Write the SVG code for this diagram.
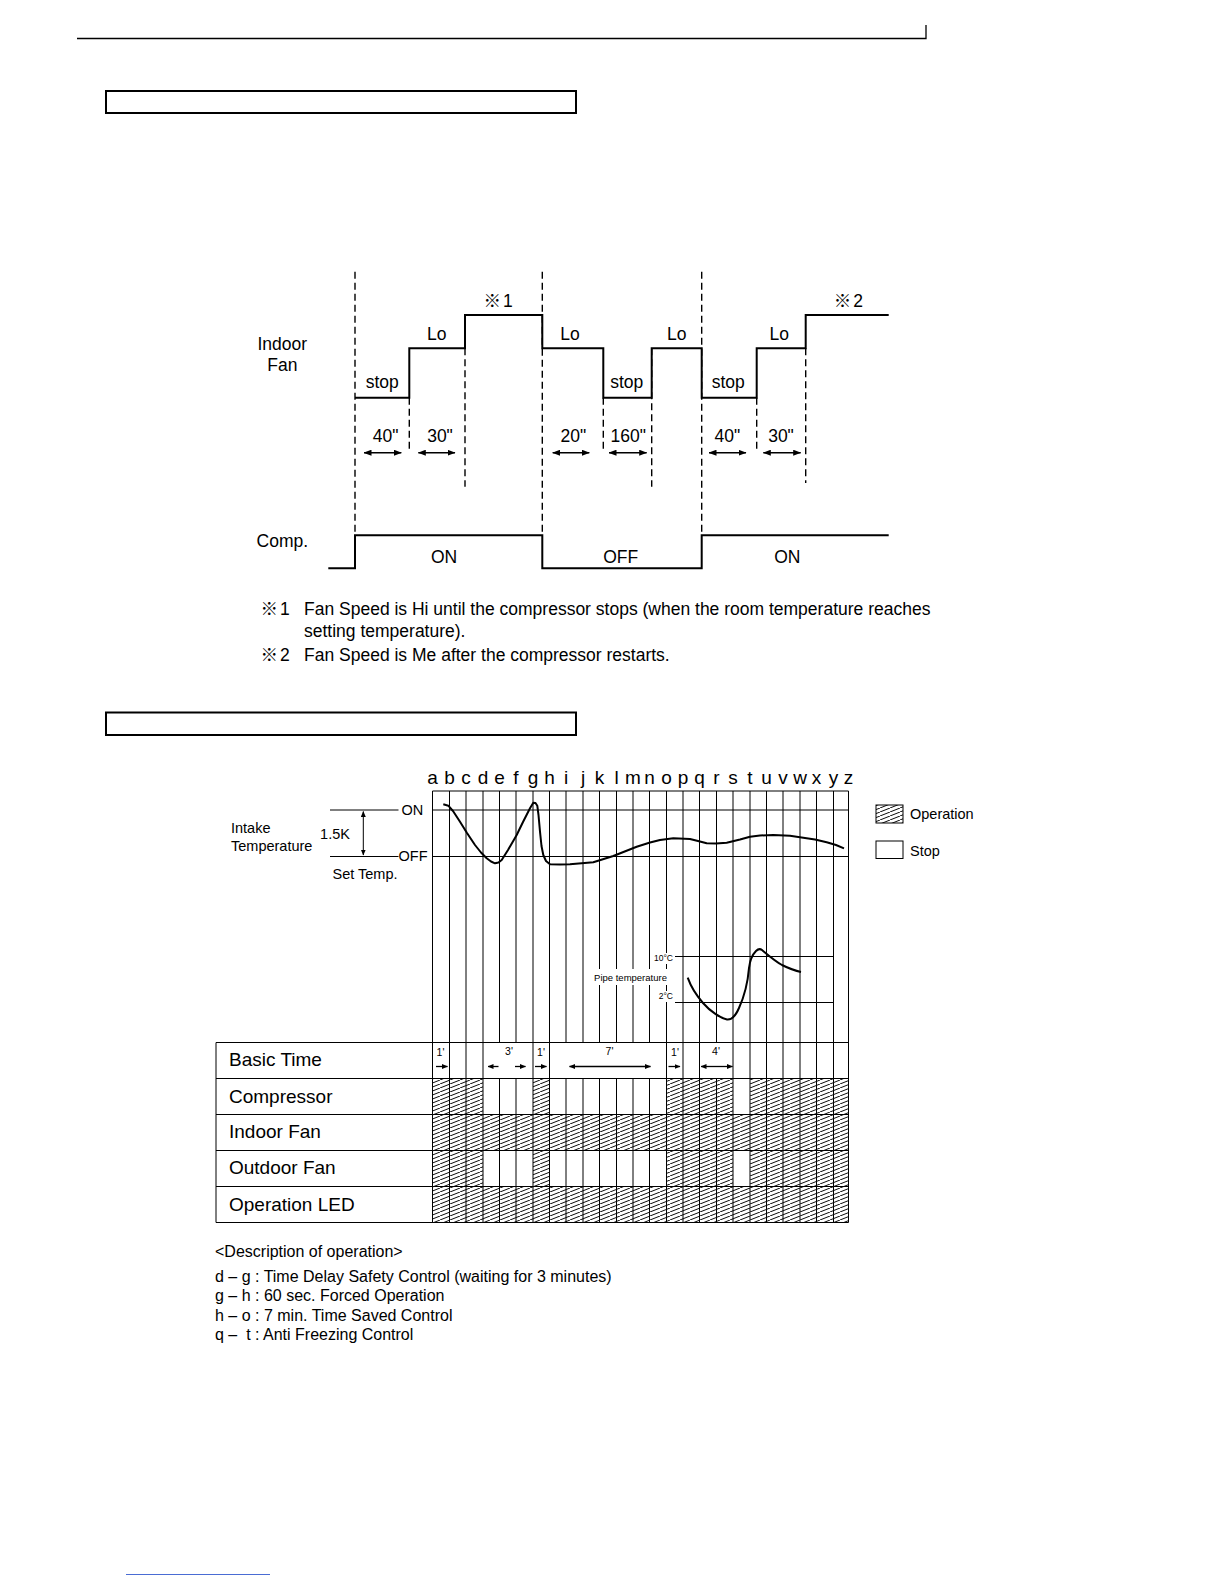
<svg xmlns="http://www.w3.org/2000/svg" width="1224" height="1584" viewBox="0 0 1224 1584">
<style>
.t{font-family:"Liberation Sans",Arial,"Noto Sans CJK JP",sans-serif;fill:#000}
.m{text-anchor:middle}
.e{text-anchor:end}
.s175{font-size:17.5px}
.s19{font-size:19px}
.s16{font-size:16px}
.s145{font-size:14.5px}
.s10{font-size:10.5px}
.ln{stroke:#000;fill:none}
.dash{stroke:#000;fill:none;stroke-width:1.4;stroke-dasharray:7 4}
.wave{stroke:#000;fill:none;stroke-width:2}
.grid{stroke:#000;fill:none;stroke-width:1}
.arr2{stroke:#000;fill:none;stroke-width:1.5;marker-start:url(#ah);marker-end:url(#ah)}
.sa{stroke:#000;fill:none;stroke-width:1.3;marker-end:url(#as)}
.sa2{stroke:#000;fill:none;stroke-width:1.3;marker-start:url(#as);marker-end:url(#as)}
.hat{fill:url(#hatch);stroke:none}
</style>
<defs>
<marker id="ah" markerUnits="userSpaceOnUse" markerWidth="8" markerHeight="6" refX="7.5" refY="3" orient="auto-start-reverse"><path d="M0,0 L8,3 L0,6 z" fill="#000"/></marker>
<marker id="as" markerUnits="userSpaceOnUse" markerWidth="6" markerHeight="5" refX="5.5" refY="2.5" orient="auto-start-reverse"><path d="M0,0 L6,2.5 L0,5 z" fill="#000"/></marker>
<pattern id="hatch" patternUnits="userSpaceOnUse" width="10" height="4"><path d="M-1,4.4 L11,-0.4" stroke="#000" stroke-width="0.95"/></pattern>
</defs>
<rect width="1224" height="1584" fill="#fff"/>

<g id="header">
<path class="ln" stroke-width="1.3" d="M77,38.5 H926 V25"/>
<rect class="ln" stroke-width="2" x="106" y="91" width="470" height="22"/>
<rect class="ln" stroke-width="2" x="106" y="712.5" width="470" height="22.5"/>
</g>

<g id="fan-chart">
<g id="fan-guides">
<path class="dash" d="M355,271.7 V535 M542.3,271.7 V535 M701.7,271.7 V535"/>
<path class="dash" d="M409.3,397.7 V451.7 M465,348.3 V486.7 M603.3,397.7 V451.7 M651.7,348.3 V486.7 M756.7,397.7 V451.7 M805.7,348.3 V483"/>
</g>
<g id="indoor-fan-wave">
<path class="wave" d="M355,397.7 H409.3 V348.3 H465 V315 H542.3 V348.3 H603.3 V397.7 H651.7 V348.3 H701.7 V397.7 H756.7 V348.3 H805.7 V315 H888.7"/>
</g>
<g id="comp-wave">
<path class="wave" d="M328.3,568.3 H355 V535.3 H542.3 V568.3 H701.7 V535.3 H888.7"/>
</g>
<g id="fan-labels">
<text class="t s175 m" x="282.3" y="349.5">Indoor</text>
<text class="t s175 m" x="282.3" y="370.5">Fan</text>
<text class="t s175 m" x="282.3" y="547">Comp.</text>
<text class="t s175 m" x="498" y="307">※<tspan dx="2">1</tspan></text>
<text class="t s175 m" x="848.3" y="307">※<tspan dx="2">2</tspan></text>
<text class="t s175 m" x="436.7" y="340">Lo</text>
<text class="t s175 m" x="570" y="340">Lo</text>
<text class="t s175 m" x="676.7" y="340">Lo</text>
<text class="t s175 m" x="779.3" y="340">Lo</text>
<text class="t s175 m" x="382.3" y="387.7">stop</text>
<text class="t s175 m" x="626.7" y="387.7">stop</text>
<text class="t s175 m" x="728.3" y="387.7">stop</text>
<text class="t s175 m" x="385.7" y="441.7">40"</text>
<text class="t s175 m" x="440" y="441.7">30"</text>
<text class="t s175 m" x="573.3" y="441.7">20"</text>
<text class="t s175 m" x="628.3" y="441.7">160"</text>
<text class="t s175 m" x="727.3" y="441.7">40"</text>
<text class="t s175 m" x="781" y="441.7">30"</text>
<text class="t s175 m" x="444" y="562.5">ON</text>
<text class="t s175 m" x="620.7" y="562.5">OFF</text>
<text class="t s175 m" x="787.3" y="562.5">ON</text>
</g>
<g id="fan-arrows">
<path class="arr2" d="M364,452.7 H401.3"/>
<path class="arr2" d="M418.3,452.7 H455"/>
<path class="arr2" d="M552.7,452.7 H589.3"/>
<path class="arr2" d="M609,452.7 H646.7"/>
<path class="arr2" d="M709,452.7 H746"/>
<path class="arr2" d="M763.3,452.7 H800.7"/>
</g>
</g>

<g id="notes">
<text class="t s175" x="260.5" y="615">※<tspan dx="2">1</tspan></text>
<text class="t s175" x="304" y="615">Fan Speed is Hi until the compressor stops (when the room temperature reaches</text>
<text class="t s175" x="304" y="636.5">setting temperature).</text>
<text class="t s175" x="260.5" y="660.5">※<tspan dx="2">2</tspan></text>
<text class="t s175" x="304" y="660.5">Fan Speed is Me after the compressor restarts.</text>
</g>

<g id="time-letters">
<text class="t s19 m" y="784"><tspan x="432.5">a</tspan><tspan x="449.5">b</tspan><tspan x="466">c</tspan><tspan x="483">d</tspan><tspan x="499.5">e</tspan><tspan x="516">f</tspan><tspan x="533">g</tspan><tspan x="549.5">h</tspan><tspan x="566">i</tspan><tspan x="583">j</tspan><tspan x="599.5">k</tspan><tspan x="616.5">l</tspan><tspan x="633">m</tspan><tspan x="649.5">n</tspan><tspan x="666.5">o</tspan><tspan x="683">p</tspan><tspan x="699.5">q</tspan><tspan x="716.5">r</tspan><tspan x="733">s</tspan><tspan x="750">t</tspan><tspan x="766.5">u</tspan><tspan x="783">v</tspan><tspan x="800">w</tspan><tspan x="816.5">x</tspan><tspan x="833.5">y</tspan><tspan x="848.5">z</tspan></text>
</g>

<g id="hatching">
<rect class="hat" x="432.5" y="1078.5" width="50.5" height="36"/>
<rect class="hat" x="533" y="1078.5" width="16.5" height="36"/>
<rect class="hat" x="666.5" y="1078.5" width="66.5" height="36"/>
<rect class="hat" x="750" y="1078.5" width="98.5" height="36"/>
<rect class="hat" x="432.5" y="1114.5" width="416" height="36"/>
<rect class="hat" x="432.5" y="1150.5" width="50.5" height="36"/>
<rect class="hat" x="533" y="1150.5" width="16.5" height="36"/>
<rect class="hat" x="666.5" y="1150.5" width="66.5" height="36"/>
<rect class="hat" x="750" y="1150.5" width="98.5" height="36"/>
<rect class="hat" x="432.5" y="1186.5" width="416" height="36"/>
</g>

<g id="grid">
<path class="grid" d="M432.5,791 V1222.5 M449.5,791 V1222.5 M466,791 V1222.5 M483,791 V1222.5 M533,791 V1222.5 M549.5,791 V1222.5 M666.5,791 V1222.5 M683,791 V1222.5 M699.5,791 V1222.5 M733,791 V1222.5 M750,791 V1222.5 M766.5,791 V1222.5 M783,791 V1222.5 M800,791 V1222.5 M816.5,791 V1222.5 M833.5,791 V1222.5 M848.5,791 V1222.5"/>
<path class="grid" d="M499.5,791 V1042.5 M499.5,1078.5 V1222.5 M516,791 V1042.5 M516,1078.5 V1222.5 M566,791 V1042.5 M566,1078.5 V1222.5 M583,791 V1042.5 M583,1078.5 V1222.5 M599.5,791 V1042.5 M599.5,1078.5 V1222.5 M616.5,791 V1042.5 M616.5,1078.5 V1222.5 M633,791 V1042.5 M633,1078.5 V1222.5 M649.5,791 V1042.5 M649.5,1078.5 V1222.5 M716.5,791 V1042.5 M716.5,1078.5 V1222.5"/>
<path class="grid" d="M432.5,791 H848.5 M432.5,810 H848.5 M432.5,856.5 H848.5 M675,956.5 H834 M675,1002.5 H834"/>
</g>

<g id="table">
<path class="grid" d="M216,1042.5 H848.5 M216,1078.5 H848.5 M216,1114.5 H848.5 M216,1150.5 H848.5 M216,1186.5 H848.5 M216,1222.5 H848.5 M216,1042.5 V1222.5"/>
<text class="t s19" x="229" y="1066">Basic Time</text>
<text class="t s19" x="229" y="1102.5">Compressor</text>
<text class="t s19" x="229" y="1138">Indoor Fan</text>
<text class="t s19" x="229" y="1174">Outdoor Fan</text>
<text class="t s19" x="229" y="1210.5">Operation LED</text>
<text class="t s10 m" x="440.5" y="1056">1'</text>
<text class="t s10 m" x="509" y="1055">3'</text>
<text class="t s10 m" x="541" y="1056">1'</text>
<text class="t s10 m" x="609.5" y="1055">7'</text>
<text class="t s10 m" x="675" y="1056">1'</text>
<text class="t s10 m" x="716" y="1055">4'</text>
<path class="sa" d="M436,1066.5 H447.5"/>
<path class="sa" d="M498.5,1066.5 H488"/>
<path class="sa" d="M515,1066.5 H525.5"/>
<path class="sa" d="M535,1066.5 H546.5"/>
<path class="sa2" d="M569.5,1066.5 H650.5"/>
<path class="sa" d="M668.5,1066.5 H680"/>
<path class="sa2" d="M701,1066.5 H732.5"/>
</g>

<g id="intake-labels">
<text class="t s145" x="231" y="833">Intake</text>
<text class="t s145" x="231" y="850.5">Temperature</text>
<path class="ln" stroke-width="1" d="M330,810 H398.5 M330,856.5 H398.5"/>
<path class="ln" stroke-width="1" marker-start="url(#as)" marker-end="url(#as)" d="M363.3,811.5 V855"/>
<text class="t s145 m" x="335" y="839">1.5K</text>
<text class="t s145" x="401.5" y="814.5">ON</text>
<text class="t s145" x="398.5" y="861">OFF</text>
<text class="t s145" x="332.5" y="879">Set Temp.</text>
</g>

<g id="intake-curve">
<polyline class="wave" stroke-linejoin="round" points="443.3,804.3 448.3,805.7 453,811 460,821.7 467,833 475,845 481,852.5 486.7,858.3 491,861.5 495,863.3 498.5,862.5 501.7,860 508,850 516.7,835 523,822 530,808.3 533.3,802.7 535.5,803 537.3,805.7 538.5,815 540,831.7 541.5,846 543.3,855 546,861 550,864.3 560,864.5 570,864.3 593.3,862.3 613.3,856 636.7,846.7 650,842.5 660,840 673.3,838.3 690,839 698,841 706.7,843.3 716,843.5 726.7,842.7 740,839.5 750,836.7 760,835.5 773.3,835 790,835.8 803.3,837.7 815,839.5 826.7,842.3 836,845 844,848.3"/>
</g>

<g id="pipe-temp">
<rect x="590" y="969" width="80" height="16" fill="#fff"/>
<rect x="652" y="953" width="22" height="11" fill="#fff"/>
<rect x="657" y="991" width="17" height="11" fill="#fff"/>
<text class="t m" style="font-size:9.5px" x="630.5" y="981">Pipe temperature</text>
<text class="t e" style="font-size:8.5px" x="673" y="961">10°C</text>
<text class="t e" style="font-size:8.5px" x="673" y="999">2°C</text>
<path class="wave" stroke-linejoin="round" d="M687.7,977.7 C691,987 696,995 703,1003 C710,1011 720,1018 727,1019.5 C732,1020 736,1015 739,1008 C744,997 748,980 749,968 C750,960 752,955 756,951 C758,949 760,948.5 762,950 C768,955 775,961 782,965 C790,969 796,971 801,972"/>
</g>

<g id="legend">
<rect x="876" y="805" width="27" height="18" fill="url(#hatch)" stroke="#000" stroke-width="1"/>
<rect x="876" y="841" width="27" height="17.5" fill="none" stroke="#000" stroke-width="1"/>
<text class="t s145" x="910" y="819">Operation</text>
<text class="t s145" x="910" y="855.5">Stop</text>
</g>

<g id="description">
<text class="t s16" x="215" y="1257">&lt;Description of operation&gt;</text>
<text class="t s16" x="215" y="1282">d – g : Time Delay Safety Control (waiting for 3 minutes)</text>
<text class="t s16" x="215" y="1301">g – h : 60 sec. Forced Operation</text>
<text class="t s16" x="215" y="1320.5">h – o : 7 min. Time Saved Control</text>
<text class="t s16" x="215" y="1340">q – &#160;t : Anti Freezing Control</text>
</g>

<path d="M126,1574.5 H270" stroke="#4a6cd4" stroke-width="1" fill="none"/>
</svg>
